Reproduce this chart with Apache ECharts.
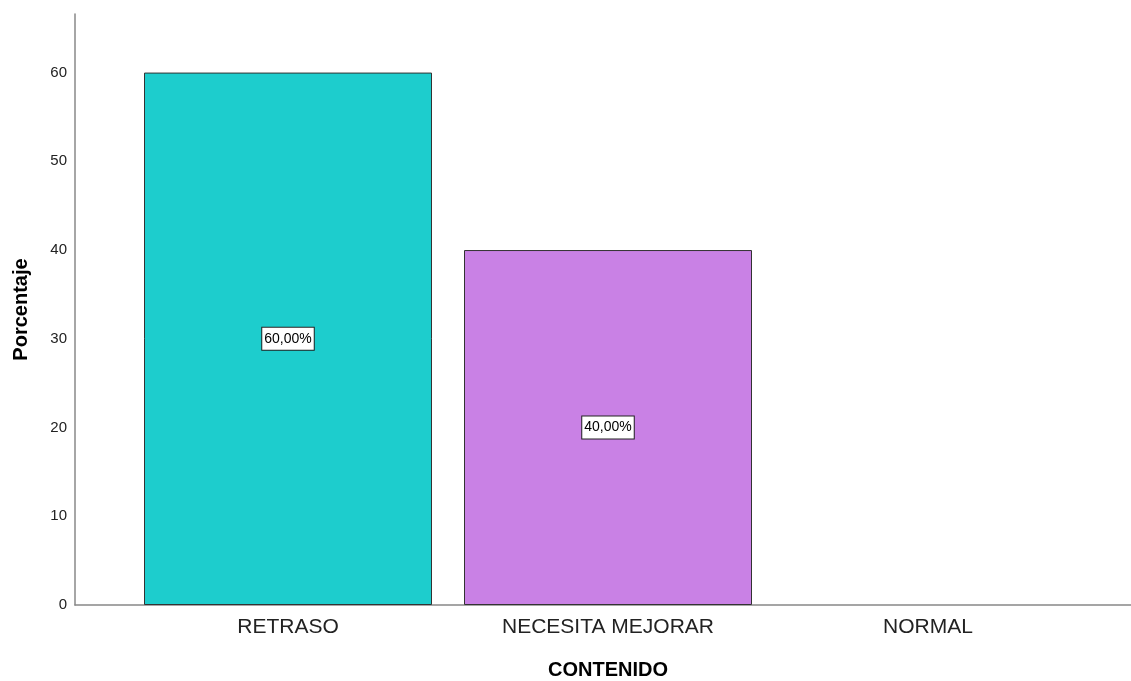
<!DOCTYPE html>
<html>
<head>
<meta charset="utf-8">
<script src="https://cdn.jsdelivr.net/npm/echarts@6/dist/echarts.min.js"></script>
<style>html,body{margin:0;padding:0;background:#fff}#c{width:1131px;height:681px}</style>
</head>
<body>
<div id="c"></div>
<script>
const categories = ['RETRASO', 'NECESITA MEJORAR', 'NORMAL'];
const percentages = [60, 40, 0];
const barColors = ['#1dcdcd', '#c981e5', '#c981e5'];
const yTicks = [0, 10, 20, 30, 40, 50, 60];

const chart = echarts.init(document.getElementById('c'));
const font = 'Liberation Sans, Arial, sans-serif';
chart.setOption({
  animation: false,
  backgroundColor: '#ffffff',
  grid: [
    {left: 128, right: 43, top: 14, bottom: 76, outerBoundsMode: 'none', containLabel: false},
    {left: 75, right: 0, top: 14, bottom: 76, outerBoundsMode: 'none', containLabel: false}
  ],
  xAxis: [
    {
      type: 'category', gridIndex: 0, data: categories,
      axisLine: {show: false}, axisTick: {show: false},
      axisLabel: {color: '#222', fontSize: 21, fontFamily: font, margin: 12},
      name: 'CONTENIDO', nameLocation: 'middle', nameGap: 55,
      nameTextStyle: {color: '#000', fontSize: 20, fontWeight: 'bold', fontFamily: font}
    },
    {
      type: 'value', gridIndex: 1, min: 0, max: 1,
      axisLine: {show: true, lineStyle: {color: '#888', width: 1.5}},
      axisTick: {show: false}, axisLabel: {show: false}, splitLine: {show: false}
    }
  ],
  yAxis: [
    {
      type: 'value', gridIndex: 0, min: 0, max: 66.6, interval: 10, offset: 53,
      axisLine: {show: true, lineStyle: {color: '#888', width: 1.5}},
      axisTick: {show: false}, splitLine: {show: false},
      axisLabel: {color: '#222', fontSize: 15, fontFamily: font, margin: 8, showMaxLabel: false,
        formatter: v => yTicks.includes(v) ? String(v) : ''},
      name: 'Porcentaje', nameLocation: 'middle', nameGap: 44,
      nameTextStyle: {color: '#000', fontSize: 20, fontWeight: 'bold', fontFamily: font}
    },
    {
      type: 'value', gridIndex: 1, show: false, min: 0, max: 1
    }
  ],
  series: [{
    type: 'bar', xAxisIndex: 0, yAxisIndex: 0,
    barWidth: '90%',
    data: percentages.map((v, i) => ({
      value: v,
      itemStyle: {color: barColors[i], borderWidth: v > 0 ? 1 : 0},
      label: {show: v > 0}
    })),
    itemStyle: {borderColor: '#333', borderWidth: 1},
    label: {
      show: true, position: 'inside', color: '#000', fontSize: 14, fontFamily: font,
      backgroundColor: '#fff', borderColor: '#222', borderWidth: 1, padding: [5, 2, 3, 2],
      formatter: p => p.value.toFixed(2).replace('.', ',') + '%'
    }
  }]
});
</script>
</body>
</html>
